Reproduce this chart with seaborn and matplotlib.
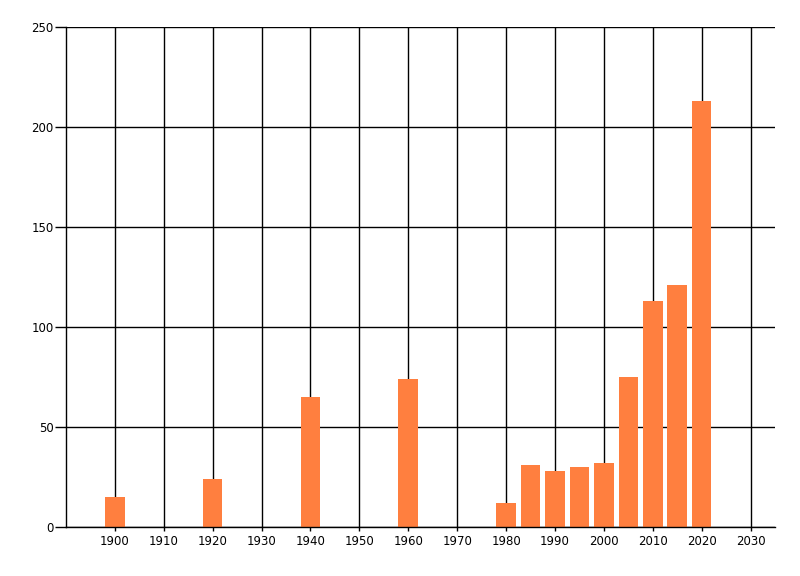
import pandas as pd
import matplotlib
matplotlib.use("Agg")
import matplotlib.pyplot as plt
import seaborn as sns

years = [1900, 1920, 1940, 1960, 1980, 1985, 1990, 1995, 2000, 2005, 2010, 2015, 2020]
counts = [15, 24, 65, 74, 12, 31, 28, 30, 32, 75, 113, 121, 213]
x_ticks = list(range(1900, 2031, 10))
y_ticks = [0, 50, 100, 150, 200, 250]

df = pd.DataFrame({"year": years, "count": counts})

sns.set_style("white")
plt.rcParams["font.family"] = ["DejaVu Sans"]

fig = plt.figure(figsize=(8, 5.76), dpi=100)
ax = fig.add_axes([66 / 800, 1 - 527 / 576, 709 / 800, 500 / 576])

sns.barplot(data=df, x="year", y="count", native_scale=True, width=0.8,
            color="#FF7F3F", saturation=1, edgecolor="none", linewidth=0, ax=ax)

ax.set_xlim(1890, 2035)
ax.set_ylim(0, 250)
ax.set_xticks(x_ticks)
ax.set_yticks(y_ticks)
ax.set_xlabel("")
ax.set_ylabel("")

ax.set_axisbelow(True)
ax.grid(True, color="black", linewidth=1)

for side in ["top", "right"]:
    ax.spines[side].set_visible(False)
for side in ["left", "bottom"]:
    ax.spines[side].set_color("black")
    ax.spines[side].set_linewidth(1)

# seaborn's white style hides tick marks, turn them back on
ax.tick_params(axis="y", left=True, length=8, width=1, color="black",
               labelcolor="black", labelsize=8.5, pad=1)
ax.tick_params(axis="x", bottom=True, length=3, width=1, color="black",
               labelcolor="black", labelsize=8.5, pad=3)

fig.savefig("out.png", dpi=100)
